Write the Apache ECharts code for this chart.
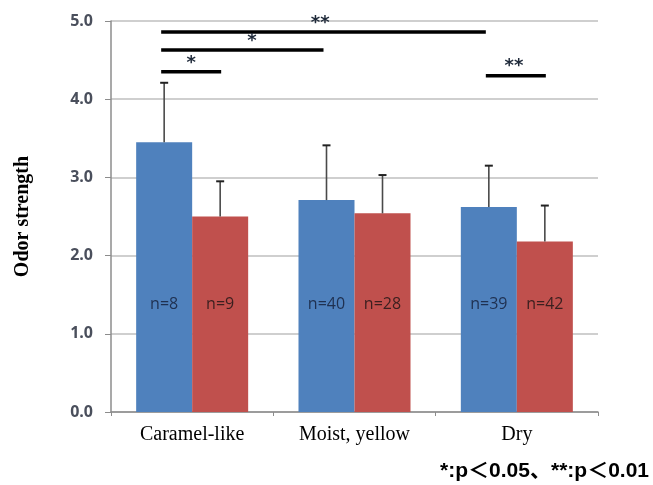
<!DOCTYPE html>
<html>
<head>
<meta charset="utf-8">
<script src="https://cdn.jsdelivr.net/npm/echarts@6/dist/echarts.min.js"></script>
<style>
  html, body { margin: 0; padding: 0; background: #fff; }
  #chart { width: 653px; height: 485px; }
</style>
</head>
<body>
<div id="chart"></div>
<script>
var categories = ["Caramel-like", "Moist, yellow", "Dry"];
var blueValues = [3.45, 2.71, 2.62];
var redValues = [2.50, 2.54, 2.18];
var blueErrTop = [4.21, 3.41, 3.15];
var redErrTop = [2.95, 3.03, 2.64];
var blueCounts = ["n=8", "n=40", "n=39"];
var redCounts = ["n=9", "n=28", "n=42"];
var yTicks = [0, 1, 2, 3, 4, 5];
// brackets: [fromCategory, fromSeries, toCategory, toSeries, level, mark]
var brackets = [
  [0, 0, 2, 0, 4.86, "**"],
  [0, 0, 1, 0, 4.63, "*"],
  [0, 0, 0, 1, 4.35, "*"],
  [2, 0, 2, 1, 4.30, "**"]
];

var BAR_FRAC = 0.345;
// where the asterisks sit along each bracket (0 = left end, 1 = right end)
var starPos = [0.49, 0.56, 0.5, 0.47];

(function odorChart() {
  var dom = document.getElementById("chart");
  var myChart = echarts.init(dom, null, { renderer: "canvas" });

  function seriesOffset(api, s) {
    var band = api.size([1, 0])[0];
    return (s === 0 ? -1 : 1) * band * BAR_FRAC / 2;
  }

  var errData = [];
  for (let i = 0; i < categories.length; i++) {
    errData.push([i, 0, blueValues[i], blueErrTop[i]]);
    errData.push([i, 1, redValues[i], redErrTop[i]]);
  }

  var barLabel = {
    show: true,
    position: "insideBottom",
    distance: 100,
    fontFamily: "Open Sans",
    fontSize: 16
  };

  var option = {
    animation: false,
    grid: { left: 111, right: 55, top: 21, bottom: 73 },
    xAxis: {
      type: "category",
      data: categories,
      axisLine: { lineStyle: { color: "#8c8c8c", width: 1.5 } },
      axisTick: { show: true, length: 4, lineStyle: { color: "#8c8c8c" } },
      axisLabel: {
        fontFamily: "Liberation Serif",
        fontSize: 20,
        color: "#000",
        margin: 13
      }
    },
    yAxis: {
      type: "value",
      min: 0,
      max: 5,
      interval: 1,
      name: "Odor strength",
      nameLocation: "middle",
      nameGap: 78,
      nameTextStyle: {
        fontFamily: "Liberation Serif",
        fontWeight: "bold",
        fontSize: 20,
        color: "#000"
      },
      axisLine: { show: true, lineStyle: { color: "#8c8c8c", width: 1.5 } },
      axisTick: { show: true, length: 6, lineStyle: { color: "#8c8c8c" } },
      splitLine: { lineStyle: { color: "#bfbfbf", width: 1.5 } },
      axisLabel: {
        fontFamily: "Open Sans",
        fontWeight: "bold",
        fontSize: 16,
        color: "#4a4f5c",
        margin: 18,
        formatter: function (v) { return yTicks.indexOf(v) >= 0 ? v.toFixed(1) : ""; }
      }
    },
    series: [
      {
        type: "bar",
        data: blueValues,
        barWidth: BAR_FRAC * 100 + "%",
        barGap: "0%",
        itemStyle: { color: "#4f81bd" },
        label: Object.assign({}, barLabel, {
          color: "#1f3050",
          formatter: function (p) { return blueCounts[p.dataIndex]; }
        })
      },
      {
        type: "bar",
        data: redValues,
        barWidth: BAR_FRAC * 100 + "%",
        barGap: "0%",
        itemStyle: { color: "#c0504d" },
        label: Object.assign({}, barLabel, {
          color: "#3a1f1f",
          formatter: function (p) { return redCounts[p.dataIndex]; }
        })
      },
      {
        type: "custom",
        data: errData,
        z: 5,
        renderItem: function (params, api) {
          var off = seriesOffset(api, api.value(1));
          var base = api.coord([api.value(0), api.value(2)]);
          var top = api.coord([api.value(0), api.value(3)]);
          var x = base[0] + off;
          return {
            type: "group",
            children: [
              { type: "line", shape: { x1: x, y1: base[1], x2: x, y2: top[1] }, style: { stroke: "#4a4a4a", lineWidth: 1.6 } },
              { type: "line", shape: { x1: x - 4, y1: top[1], x2: x + 4, y2: top[1] }, style: { stroke: "#222", lineWidth: 2 } }
            ]
          };
        }
      },
      {
        type: "custom",
        data: brackets,
        z: 6,
        renderItem: function (params, api) {
          var b = brackets[params.dataIndex];
          var p1 = api.coord([b[0], b[4]]);
          var p2 = api.coord([b[2], b[4]]);
          var x1 = p1[0] + seriesOffset(api, b[1]) - 3;
          var x2 = p2[0] + seriesOffset(api, b[3]) + (b[2] === b[0] ? 1 : -3);
          return {
            type: "group",
            children: [
              { type: "line", shape: { x1: x1, y1: p1[1], x2: x2, y2: p1[1] }, style: { stroke: "#000", lineWidth: 3.5 } },
              {
                type: "text",
                x: x1 + (x2 - x1) * starPos[params.dataIndex],
                y: p1[1] - 9,
                style: {
                  text: b[5],
                  fontFamily: "DejaVu Sans",
                  fontWeight: "bold",
                  fontSize: 18,
                  fill: "#1f2a3a",
                  align: "center",
                  verticalAlign: "middle"
                }
              }
            ]
          };
        }
      }
    ],
    graphic: [
      {
        type: "text",
        right: 4,
        top: 461,
        style: {
          text: "*:p\uff1c0.05\u3001**:p\uff1c0.01",
          fontFamily: "Liberation Sans, Noto Sans CJK JP",
          fontWeight: "bold",
          fontSize: 21,
          fill: "#000"
        }
      }
    ]
  };

  option && myChart.setOption(option);
})();
</script>
</body>
</html>
